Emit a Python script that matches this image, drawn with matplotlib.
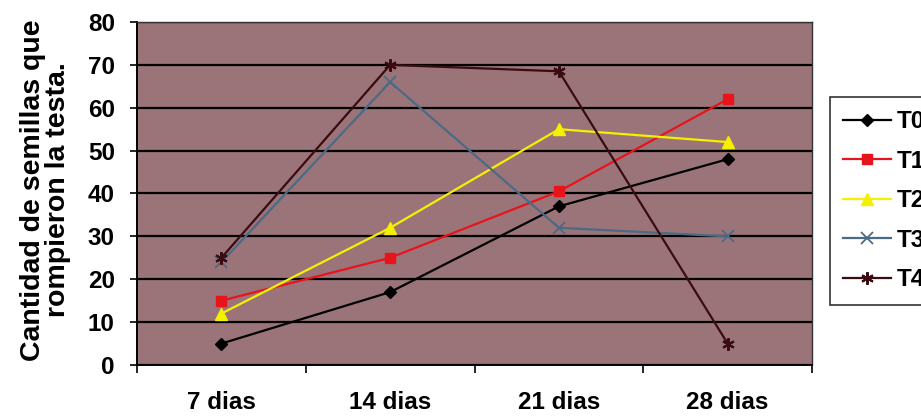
import numpy as np
import matplotlib.pyplot as plt

# germination counts per treatment
categories = ["7 dias", "14 dias", "21 dias", "28 dias"]
t0 = [5, 17, 37, 48]
t1 = [15, 25, 40.5, 62]
t2 = [12, 32, 55, 52]
t3 = [24, 66, 32, 30]
t4 = [25, 70, 68.5, 5]
series_names = ["T0", "T1", "T2", "T3", "T4"]

styles = {
    "T0": dict(color="black", marker="D", ms=6),
    "T1": dict(color="#e8141c", marker="s", ms=7),
    "T2": dict(color="#f4f000", marker="^", ms=8),
    "T3": dict(color="#4a6a86", marker="x", ms=8, mew=1.3),
    "T4": dict(color="#3a0c12", marker=(6, 2, 0), ms=9, mew=1.5),
}

FS = 17.5
plt.rcParams["font.family"] = ["Liberation Sans", "DejaVu Sans"]
plt.rcParams["font.weight"] = "bold"

fig = plt.figure(figsize=(9.21, 4.19), dpi=100)
ax = fig.add_axes([0.1488, 0.1289, 0.7329, 0.8186])
ax.set_facecolor("#9b7479")

x = np.arange(len(categories)) + 0.5
for name, vals in zip(series_names, [t0, t1, t2, t3, t4]):
    ax.plot(x, vals, lw=1.6, label=name, **styles[name])

ax.set_xlim(0, 4)
ax.set_ylim(0, 80)
ax.set_yticks(range(0, 81, 10))
ax.yaxis.grid(True, color="black", lw=1.6)
ax.set_axisbelow(True)

# category boundaries as major ticks, names centred as minor labels
ax.set_xticks(range(5))
ax.set_xticklabels([])
ax.set_xticks(x, minor=True)
ax.set_xticklabels(categories, minor=True, fontsize=FS, fontweight="bold")
ax.tick_params(axis="x", which="minor", length=0, pad=19)
ax.tick_params(axis="x", which="major", length=6, width=1.2, direction="out")
ax.tick_params(axis="y", length=5, width=1.2, labelsize=FS, pad=11)
for lab in ax.get_yticklabels():
    lab.set_fontweight("bold")

for side in ["left", "bottom"]:
    ax.spines[side].set_linewidth(1.4)
    ax.spines[side].set_color("black")
for side in ["top", "right"]:
    ax.spines[side].set_linewidth(1.0)
    ax.spines[side].set_color("#333333")

ax.set_ylabel("Cantidad de semillas que\nrompieron la testa.", fontsize=20.5,
              fontweight="bold", linespacing=0.95)
ax.yaxis.set_label_coords(-0.098, 0.51)

leg = fig.legend(loc="upper left", bbox_to_anchor=(830 / 921, 1 - 97 / 419),
                 frameon=True, fancybox=False, edgecolor="black",
                 prop={"size": FS, "weight": "bold"}, handlelength=1.95,
                 labelspacing=0.68, borderpad=0.55, handletextpad=0.25,
                 borderaxespad=0)
leg.get_frame().set_linewidth(1.2)

fig.savefig("out.png", dpi=100)
